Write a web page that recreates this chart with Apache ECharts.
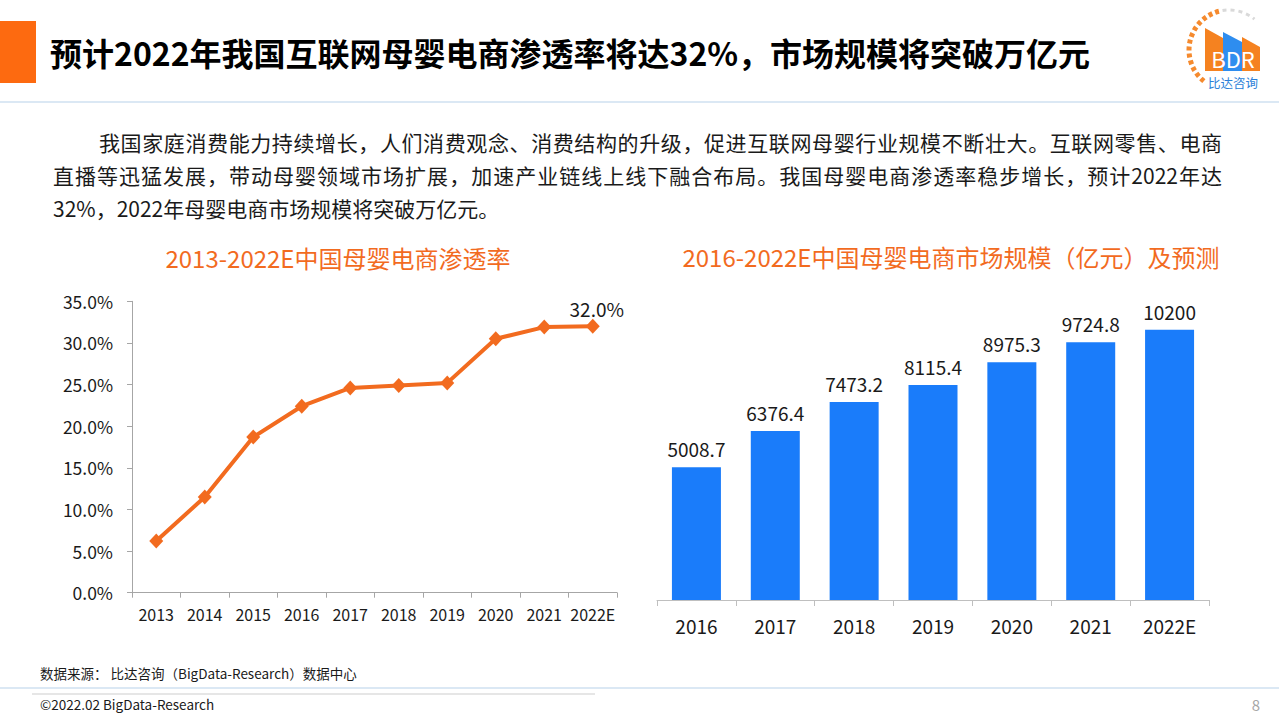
<!DOCTYPE html>
<html>
<head>
<meta charset="utf-8">
<script src="https://cdn.jsdelivr.net/npm/echarts@6/dist/echarts.min.js"></script>
<style>
  html, body { margin: 0; padding: 0; background: #fff; }
  #chart { position: absolute; left: 0; top: 0; width: 1279px; height: 720px; }
  .para { position: absolute; font-family: 'Noto Sans CJK SC', sans-serif; font-size: 21px; line-height: 24px; color: #1a1a1a; }
  .just { text-align: justify; text-align-last: justify; }
</style>
</head>
<body>
<div id="chart"></div>
<div class="para just" style="left:99px; top:130px; width:1123px;">我国家庭消费能力持续增长，人们消费观念、消费结构的升级，促进互联网母婴行业规模不断壮大。互联网零售、电商</div>
<div class="para just" style="left:53px; top:163px; width:1169px;">直播等迅猛发展，带动母婴领域市场扩展，加速产业链线上线下融合布局。我国母婴电商渗透率稳步增长，预计2022年达</div>
<div class="para" style="left:53px; top:196px;">32%，2022年母婴电商市场规模将突破万亿元。</div>
<script>
// ---- data ----
const lineYears = ['2013', '2014', '2015', '2016', '2017', '2018', '2019', '2020', '2021', '2022E'];
const penetration = [6.2, 11.5, 18.7, 22.4, 24.6, 24.9, 25.2, 30.5, 31.9, 32.0];
const pctTicks = [0, 5, 10, 15, 20, 25, 30, 35];

const barYears = ['2016', '2017', '2018', '2019', '2020', '2021', '2022E'];
const marketSize = [5008.7, 6376.4, 7473.2, 8115.4, 8975.3, 9724.8, 10200];

const FONT = "'Noto Sans CJK SC', 'Noto Sans', sans-serif";
const ORANGE = '#F26B1F';
const BLUE = '#1A7CFA';

const chart = echarts.init(document.getElementById('chart'), null, { renderer: 'svg' });

const lineData = penetration.map((v, i) => i === penetration.length - 1
  ? { value: v, label: { show: true } } : v);

const option = {
  backgroundColor: '#fff',
  animation: false,
  textStyle: { fontFamily: FONT },
  grid: [
    { left: 132, right: 662, top: 301.3, bottom: 127.3 },
    { left: 657, right: 70, top: 282, bottom: 120 }
  ],
  xAxis: [
    {
      gridIndex: 0, type: 'category', data: lineYears, boundaryGap: true,
      axisLine: { lineStyle: { color: '#a6a6a6', width: 1 } },
      axisTick: { show: true, length: 5, interval: 0, lineStyle: { color: '#a6a6a6' } },
      axisLabel: { interval: 0, fontSize: 16, color: '#1a1a1a', margin: 13, fontFamily: FONT }
    },
    {
      gridIndex: 1, type: 'category', data: barYears, boundaryGap: true,
      axisLine: { lineStyle: { color: '#bfbfbf', width: 1 } },
      axisTick: { show: true, length: 6, interval: 0, lineStyle: { color: '#bfbfbf' } },
      axisLabel: { interval: 0, fontSize: 19, color: '#1a1a1a', margin: 16, fontFamily: FONT }
    }
  ],
  yAxis: [
    {
      gridIndex: 0, type: 'value', min: pctTicks[0], max: pctTicks[pctTicks.length - 1], interval: 5,
      axisLine: { show: true, lineStyle: { color: '#a6a6a6', width: 1 } },
      axisTick: { show: true, length: 5, lineStyle: { color: '#a6a6a6' } },
      splitLine: { show: false },
      axisLabel: { fontSize: 17.5, color: '#1a1a1a', margin: 19, fontFamily: FONT,
        formatter: v => v.toFixed(1) + '%' }
    },
    {
      gridIndex: 1, type: 'value', min: 0, max: 12000, show: false,
      splitLine: { show: false }
    }
  ],
  series: [
    {
      type: 'line', xAxisIndex: 0, yAxisIndex: 0, data: lineData,
      symbol: 'diamond', symbolSize: [14, 15],
      lineStyle: { color: ORANGE, width: 4 },
      itemStyle: { color: ORANGE },
      label: { show: false, position: 'top', distance: 1, fontSize: 19, color: '#1a1a1a',
        fontFamily: FONT, formatter: p => p.value.toFixed(1) + '%', offset: [4, 0] }
    },
    {
      type: 'bar', xAxisIndex: 1, yAxisIndex: 1, data: marketSize,
      barWidth: 49,
      itemStyle: { color: BLUE },
      label: { show: true, position: 'top', distance: 9, fontSize: 19, color: '#1a1a1a', fontFamily: FONT }
    }
  ],
  graphic: [
    // header accent
    { type: 'rect', shape: { x: 0, y: 21, width: 36, height: 62 }, style: { fill: '#FD6A10' } },
    { type: 'text', x: 50, y: 52, style: {
        text: '预计2022年我国互联网母婴电商渗透率将达32%，市场规模将突破万亿元',
        font: 'bold 32px ' + FONT, fill: '#000', verticalAlign: 'middle' } },
    { type: 'line', shape: { x1: 0, y1: 102, x2: 1279, y2: 102 }, style: { stroke: '#CFE0F0', lineWidth: 1.5 } },
    // chart titles
    { type: 'text', x: 338, y: 257, style: { text: '2013-2022E中国母婴电商渗透率', font: '24px ' + FONT,
        fill: ORANGE, align: 'center', verticalAlign: 'middle' } },
    { type: 'text', x: 951, y: 256, style: { text: '2016-2022E中国母婴电商市场规模（亿元）及预测', font: '24px ' + FONT,
        fill: ORANGE, align: 'center', verticalAlign: 'middle' } },
    // source & footer
    { type: 'text', x: 40, y: 673, style: { text: '数据来源： 比达咨询（BigData-Research）数据中心', font: '13.5px ' + FONT,
        fill: '#1a1a1a', verticalAlign: 'middle' } },
    { type: 'line', shape: { x1: 0, y1: 688, x2: 1279, y2: 688 }, style: { stroke: '#CFE0F0', lineWidth: 1.5 } },
    { type: 'line', shape: { x1: 32, y1: 694, x2: 595, y2: 694 }, style: { stroke: '#E6E6E6', lineWidth: 2 } },
    { type: 'text', x: 40, y: 704, style: { text: '©2022.02 BigData-Research', font: '13.5px ' + FONT,
        fill: '#1a1a1a', verticalAlign: 'middle' } },
    { type: 'text', x: 1256, y: 704, style: { text: '8', font: '15px ' + FONT, fill: '#A6A6A6',
        align: 'center', verticalAlign: 'middle' } },
    // logo
    { type: 'arc', shape: { cx: 1229, cy: 50, r: 40, startAngle: 2.25, endAngle: 4.5, clockwise: true },
      style: { stroke: '#F58A2E', lineWidth: 5, lineDash: [4, 3], fill: null } },
    { type: 'arc', shape: { cx: 1229, cy: 50, r: 40, startAngle: 4.55, endAngle: 5.4, clockwise: true },
      style: { stroke: '#D9D9D9', lineWidth: 3, lineDash: [4, 4], fill: null } },
    { type: 'polygon', shape: { points: [[1205, 28], [1223, 38], [1223, 71], [1205, 71]] }, style: { fill: '#F58220' } },
    { type: 'polygon', shape: { points: [[1223, 32], [1242, 42], [1242, 71], [1223, 71]] }, style: { fill: '#2E8DEF' } },
    { type: 'polygon', shape: { points: [[1242, 37], [1260, 47], [1260, 71], [1242, 71]] }, style: { fill: '#F58220' } },
    { type: 'text', x: 1233, y: 58, style: { text: 'BDR', font: '22px ' + FONT, fill: '#fff',
        align: 'center', verticalAlign: 'middle' } },
    { type: 'text', x: 1233, y: 82, style: { text: '比达咨询', font: '12.5px ' + FONT, fill: '#2B7FD8',
        align: 'center', verticalAlign: 'middle' } }
  ]
};
chart.setOption(option);
</script>
</body>
</html>
